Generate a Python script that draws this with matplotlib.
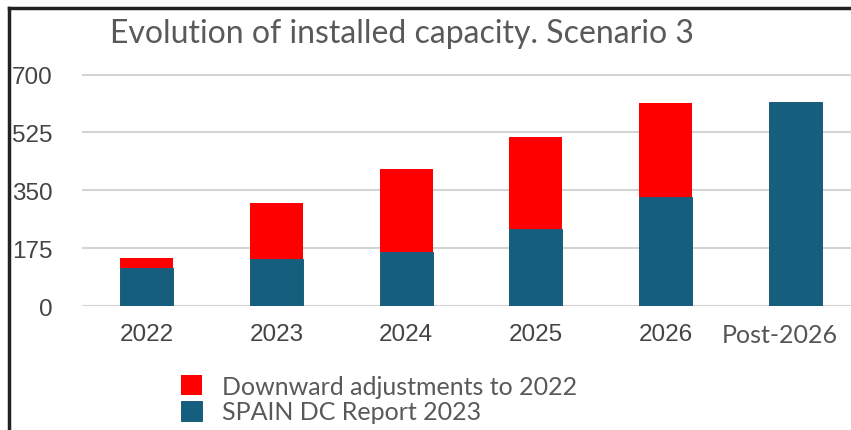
import matplotlib
matplotlib.use("Agg")
from matplotlib import pyplot as plt
from matplotlib.lines import Line2D
from matplotlib.transforms import ScaledTranslation

# Datos
years = ['2022', '2023', '2024', '2025', '2026', 'Post-2026']
spain_dc = [115, 142, 163, 233, 329, 616]
downward = [30, 169, 251, 277, 284, 0]
yticks = [0, 175, 350, 525, 700]

blue = '#165e7e'
red = '#ff0000'

fig = plt.figure(figsize=(8.51, 4.31), dpi=100)
ax = fig.add_axes([82 / 851, 0.2877, 1 - 82 / 851, 0.826 - 0.2877])

x = range(len(years))
b1 = ax.bar(x, spain_dc, width=0.41, color=blue, edgecolor='#0f4f6c', linewidth=0.6,
            label='SPAIN DC Report 2023', zorder=3)
b2 = ax.bar(x, downward, width=0.41, bottom=spain_dc, color=red, linewidth=0,
            label='Downward adjustments to 2022', zorder=3)

ax.set_xlim(-0.5, 5.43)
ax.set_ylim(0, 702)
ax.set_yticks(yticks)
ax.set_xticks(list(x))
ax.set_xticklabels(years)
ax.grid(axis='y', color='#d4d4d4', linewidth=1.5, zorder=0)
for s in ax.spines.values():
    s.set_visible(False)
ax.tick_params(axis='y', length=0, pad=21, labelsize=17.5, labelcolor='#444444',
               labelfontfamily='Liberation Sans')
ax.tick_params(axis='x', length=0, pad=12, labelsize=17.5, labelcolor='#444444',
               labelfontfamily='Liberation Sans')
# la última etiqueta va en otra fuente y algo desplazada a la izquierda
last = ax.get_xticklabels()[-1]
last.set_fontfamily('Lato')
last.set_fontsize(18)
last.set_color('#555555')
last.set_transform(last.get_transform() + ScaledTranslation(-0.15, 0, fig.dpi_scale_trans))

fig.text(402 / 851, 1 - 34 / 431, 'Evolution of installed capacity. Scenario 3',
         ha='center', va='center', fontsize=23, color='#595959', family='Lato')

fig.legend(handles=[b2, b1], loc='upper left', bbox_to_anchor=(181 / 851, 1 - 376 / 431),
           frameon=False, prop={'family': 'Lato', 'size': 18}, labelcolor='#595959',
           handlelength=0.85, handleheight=0.85, handletextpad=0.8, labelspacing=0.1,
           borderpad=0, borderaxespad=0)

# marco negro parcial (izquierda y arriba)
fig.add_artist(Line2D([9 / 851, 9 / 851], [0, 1 - 9 / 431], color='#222222', linewidth=2.5,
                      transform=fig.transFigure))
fig.add_artist(Line2D([9 / 851, 1], [1 - 9 / 431, 1 - 9 / 431], color='#222222', linewidth=2.5,
                      transform=fig.transFigure))

fig.savefig('out.png', dpi=100)
